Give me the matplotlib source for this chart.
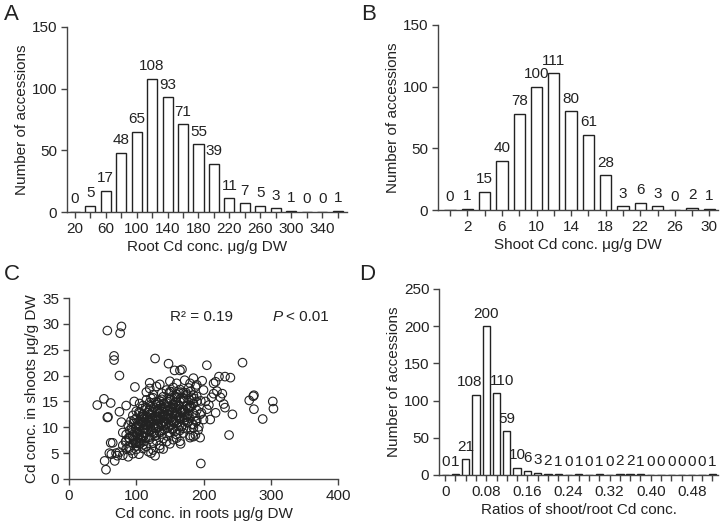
import matplotlib.pyplot as plt
import numpy as np
from matplotlib.transforms import ScaledTranslation

plt.rcParams["font.family"] = ["Liberation Sans", "DejaVu Sans"]
INK = "#222222"
AXC = "#444444"

# ---- panel A: root Cd histogram
root_bins = [20, 40, 60, 80, 100, 120, 140, 160, 180, 200, 220, 240, 260, 280, 300, 320, 340, 360]
root_counts = [0, 5, 17, 48, 65, 108, 93, 71, 55, 39, 11, 7, 5, 3, 1, 0, 0, 1]
root_ticklabels = ["20", "", "60", "", "100", "", "140", "", "180", "", "220", "", "260", "", "300", "", "340", ""]

# ---- panel B: shoot Cd histogram
shoot_bins = [0, 2, 4, 6, 8, 10, 12, 14, 16, 18, 20, 22, 24, 26, 28, 30]
shoot_counts = [0, 1, 15, 40, 78, 100, 111, 80, 61, 28, 3, 6, 3, 0, 2, 1]
shoot_ticklabels = ["", "2", "", "6", "", "10", "", "14", "", "18", "", "22", "", "26", "", "30"]

# ---- panel D: shoot/root ratio histogram
ratio_bins = [0.00, 0.02, 0.04, 0.06, 0.08, 0.10, 0.12, 0.14, 0.16, 0.18, 0.20, 0.22, 0.24,
              0.26, 0.28, 0.30, 0.32, 0.34, 0.36, 0.38, 0.40, 0.42, 0.44, 0.46, 0.48, 0.50, 0.52]
ratio_counts = [0, 1, 21, 108, 200, 110, 59, 10, 6, 3, 2, 1, 0, 1, 0, 1, 0, 2, 2, 1, 0, 0, 0, 0, 0, 0, 1]
ratio_ticklabels = ["0", "", "", "", "0.08", "", "", "", "0.16", "", "", "", "0.24", "", "", "",
                    "0.32", "", "", "", "0.40", "", "", "", "0.48", "", ""]

# ---- panel C: scatter (outliers + dense core)
root_pts = [
    57, 78, 76, 67, 67, 75, 128, 148, 205, 258, 157, 168, 165, 232, 240, 223,
    42, 52, 62, 58, 57, 85, 98, 97, 53, 55, 196, 238, 243, 268, 275, 274, 275, 288,
    303, 304, 230, 232, 62, 65, 60, 63, 68, 70, 72, 75, 78, 80, 128, 122, 166,
    200, 195, 188, 192, 185, 180, 190, 218, 210, 205, 220, 215, 212, 225, 228,
    218, 215, 198, 185, 180, 190, 200,
    75, 80, 85, 88, 92, 95, 100, 104, 110, 118, 125, 135, 140,
    80, 85, 88, 90, 95, 98, 100, 103, 106, 110, 112, 115, 120, 125, 130, 135, 140, 145, 150, 155, 160, 165,
    85, 90, 95, 100, 102, 105, 108, 110, 113, 116, 120, 123, 126, 130, 134, 138, 142, 146, 150, 155, 160,
    165, 170, 175, 180, 185,
    88, 92, 96, 100, 103, 106, 109, 112, 115, 118, 121, 124, 127, 130, 133, 136, 139, 142, 145, 148, 152,
    156, 160, 164, 168, 172, 176, 180, 185, 190,
    95, 100, 105, 108, 111, 114, 117, 120, 123, 126, 129, 132, 135, 138, 141, 144, 147, 150, 153, 156,
    160, 164, 168, 172, 176, 180, 185, 190, 195,
    105, 110, 115, 120, 125, 130, 135, 140, 145, 150, 155, 160, 165, 170, 175, 180, 185, 190,
    115, 120, 125, 130, 138, 145, 150, 155, 160, 165, 170, 178, 185,
    120, 135, 150, 160, 172,
    98, 104, 111, 117, 122, 128, 133, 139, 144, 149, 154, 158, 163, 169, 174,
    107, 113, 119, 125, 131, 137, 143, 148, 153, 158, 162, 167, 171, 178, 182,
    90, 94, 99, 102, 108, 114, 120, 126, 132, 140, 146, 152, 157, 166, 175,
    96, 101, 106, 112, 118, 123, 129, 134, 141, 147, 151, 156, 161, 170, 177, 183, 188,
    93, 97, 103, 109, 116, 121, 127, 133, 138, 143, 149, 155, 161, 166, 172, 179, 186, 193,
    84, 89, 95, 101, 107, 113, 119, 124, 130, 136, 142, 148, 154, 159, 165, 171, 177, 184,
    104, 110, 116, 122, 128, 134, 140, 146, 152, 158, 163, 168, 174, 181, 188, 196, 203, 208,
    99, 105, 111, 117, 123, 129, 135, 141, 147, 153, 159, 164, 170, 176, 182, 189, 197,
]
shoot_pts = [
    28.7, 29.5, 28.2, 23.8, 23.0, 20.0, 23.3, 22.3, 22.0, 22.5, 21.0, 21.2, 21.0, 19.8, 19.6, 19.8,
    14.3, 15.5, 14.7, 12.0, 11.9, 14.2, 17.8, 15.0, 3.5, 1.8, 3.0, 8.5, 12.5, 15.2, 16.2, 16.0, 13.5, 11.6,
    15.0, 13.6, 14.5, 13.8, 7.0, 7.0, 5.0, 4.8, 3.5, 5.0, 4.5, 13.0, 11.0, 9.0, 4.5, 5.0, 6.8,
    11.5, 8.0, 8.5, 9.5, 8.2, 8.0, 16.0, 12.8, 11.5, 13.5, 17.0, 16.5, 15.8, 15.8, 16.5,
    18.8, 18.5, 19.0, 19.5, 18.5, 18.2, 17.2,
    5.2, 4.6, 5.8, 4.3, 5.5, 4.9, 5.7, 4.8, 5.9, 5.3, 5.6, 5.9, 5.8,
    6.5, 7.4, 6.2, 7.8, 6.9, 7.5, 6.4, 7.1, 7.9, 6.6, 7.3, 6.3, 7.7, 6.9, 7.4, 6.5, 7.8, 7.2, 6.8, 7.6, 7.9, 7.3,
    8.6, 9.4, 8.2, 9.8, 8.9, 9.2, 8.4, 9.7, 8.8, 9.5, 8.1, 9.1, 9.9, 8.5, 9.3, 8.7, 9.6, 8.3, 9.0, 9.8, 8.6,
    9.4, 8.9, 9.7, 8.4, 9.9,
    10.4, 11.2, 10.8, 11.7, 10.2, 11.5, 10.9, 11.9, 10.5, 11.3, 10.1, 11.8, 10.7, 11.4, 10.3, 11.6, 10.9,
    11.1, 10.6, 11.9, 10.4, 11.2, 10.8, 11.6, 10.2, 11.4, 10.9, 11.7, 10.5, 11.3,
    12.3, 13.1, 12.7, 13.6, 12.2, 13.9, 12.9, 13.4, 12.5, 13.8, 12.1, 13.2, 12.8, 13.5, 12.4, 13.9, 12.6,
    13.3, 12.9, 13.7, 12.2, 13.5, 12.8, 13.1, 12.4, 13.8, 12.7, 13.3, 12.5,
    14.6, 14.2, 15.3, 14.8, 15.7, 14.4, 15.1, 15.9, 14.7, 15.4, 14.3, 15.8, 14.9, 15.5, 14.2, 15.2, 14.6, 15.0,
    16.8, 17.5, 16.3, 17.9, 16.6, 17.2, 16.9, 17.7, 16.4, 17.3, 16.7, 17.6, 16.2,
    18.6, 18.3, 18.9, 18.5, 19.1,
    9.0, 10.6, 11.0, 12.0, 9.5, 12.1, 10.0, 12.4, 11.8, 10.2, 13.0, 12.6, 14.1, 13.4, 12.0,
    7.0, 9.0, 11.0, 10.0, 13.0, 10.5, 12.2, 14.0, 11.3, 9.2, 14.4, 10.1, 13.3, 12.6, 14.0,
    6.0, 8.5, 7.0, 10.8, 12.0, 8.0, 12.5, 11.2, 14.8, 13.0, 15.0, 12.0, 16.0, 15.5, 16.3,
    7.6, 8.8, 10.4, 9.6, 12.8, 11.6, 9.8, 13.6, 11.0, 13.2, 15.6, 10.9, 12.9, 15.0, 13.7, 10.6, 12.2,
    9.9, 11.4, 8.0, 12.4, 11.6, 14.3, 8.8, 11.6, 15.4, 10.7, 16.6, 14.5, 10.3, 16.8, 11.9, 13.9, 15.6, 10.1,
    7.2, 8.0, 9.5, 6.9, 11.1, 10.6, 9.3, 13.0, 11.8, 14.2, 13.6, 12.4, 9.6, 14.9, 12.0, 15.6, 11.0, 14.5,
    12.9, 8.1, 13.6, 15.6, 8.3, 12.7, 10.3, 11.4, 16.9, 13.8, 11.9, 13.0, 16.7, 17.0, 17.8, 15.1, 15.0, 14.3,
    10.0, 6.8, 8.3, 10.3, 11.0, 14.9, 9.0, 14.6, 9.9, 13.8, 11.4, 16.6, 9.8, 12.3, 15.8, 11.1, 12.8,
]

W, H = 721, 524
fig = plt.figure(figsize=(W / 100, H / 100), dpi=100)


def px_axes(l, t, r, b):
    return fig.add_axes([l / W, 1 - b / H, (r - l) / W, (b - t) / H])


def style(ax):
    for s in ("top", "right"):
        ax.spines[s].set_visible(False)
    for s in ("left", "bottom"):
        ax.spines[s].set_color(AXC)
        ax.spines[s].set_linewidth(1.0)
    ax.tick_params(direction="out", length=4, width=1.0, color=AXC,
                   labelsize=11, labelcolor=INK, pad=3)


def hist_panel(ax, x, counts, width, ticklabels, xlim, ylim, yticks, xlabel, nudge=None, fs=11):
    style(ax)
    nudge = nudge or {}
    ax.bar(x, counts, width=width, color="white", edgecolor=INK, linewidth=1.0, zorder=3)
    for i, (xi, c) in enumerate(zip(x, counts)):
        tr = ax.transData + ScaledTranslation(nudge.get(i, 0) / 100, 0, fig.dpi_scale_trans)
        ax.text(xi, c + ylim[1] * 0.03, str(c), ha="center", va="bottom", fontsize=fs,
                color=INK, transform=tr)
    ax.set_xticks(x)
    ax.set_xticklabels(ticklabels)
    ax.set_xlim(*xlim)
    ax.set_ylim(*ylim)
    ax.set_yticks(yticks)
    ax.set_xlabel(xlabel, fontsize=11, color=INK, labelpad=3)
    ax.set_ylabel("Number of accessions", fontsize=11, color=INK, labelpad=2)


axA = px_axes(67, 27, 347, 212)
hist_panel(axA, root_bins, root_counts, 13, root_ticklabels, (10, 372), (0, 150),
           [0, 50, 100, 150], "Root Cd conc. μg/g DW")

axB = px_axes(438, 25, 718, 210)
hist_panel(axB, shoot_bins, shoot_counts, 1.3, shoot_ticklabels, (-1.4, 31), (0, 150),
           [0, 50, 100, 150], "Shoot Cd conc. μg/g DW")

axD = px_axes(439, 289, 718, 475)
hist_panel(axD, ratio_bins, ratio_counts, 0.0142, ratio_ticklabels, (-0.012, 0.531), (0, 250),
           [0, 50, 100, 150, 200, 250], "Ratios of shoot/root Cd conc.", nudge={3: -6, 5: 6})

axC = px_axes(69, 298, 338, 479)
style(axC)
axC.scatter(root_pts, shoot_pts, s=38, facecolors="none", edgecolors=INK, linewidths=0.8, zorder=3)
axC.set_xlim(0, 400)
axC.set_ylim(0, 35)
axC.set_xticks([0, 100, 200, 300, 400])
axC.set_yticks([0, 5, 10, 15, 20, 25, 30, 35])
axC.set_xlabel("Cd conc. in roots μg/g DW", fontsize=11, color=INK, labelpad=3)
axC.set_ylabel("Cd conc. in shoots μg/g DW", fontsize=11, color=INK, labelpad=2)
axC.text(150, 31.3, "R² = 0.19", ha="left", va="center", fontsize=11, color=INK)
axC.text(302, 31.3, "P", ha="left", va="center", fontsize=11, color=INK, style="italic")
axC.text(323, 31.3, "< 0.01", ha="left", va="center", fontsize=11, color=INK)

for lab, x, y in (("A", 4, 4), ("B", 361, 4), ("C", 4, 264), ("D", 359, 264)):
    fig.text(x / W, 1 - y / H, lab, ha="left", va="top", fontsize=16, color=INK)

fig.savefig("out.png", dpi=100)
